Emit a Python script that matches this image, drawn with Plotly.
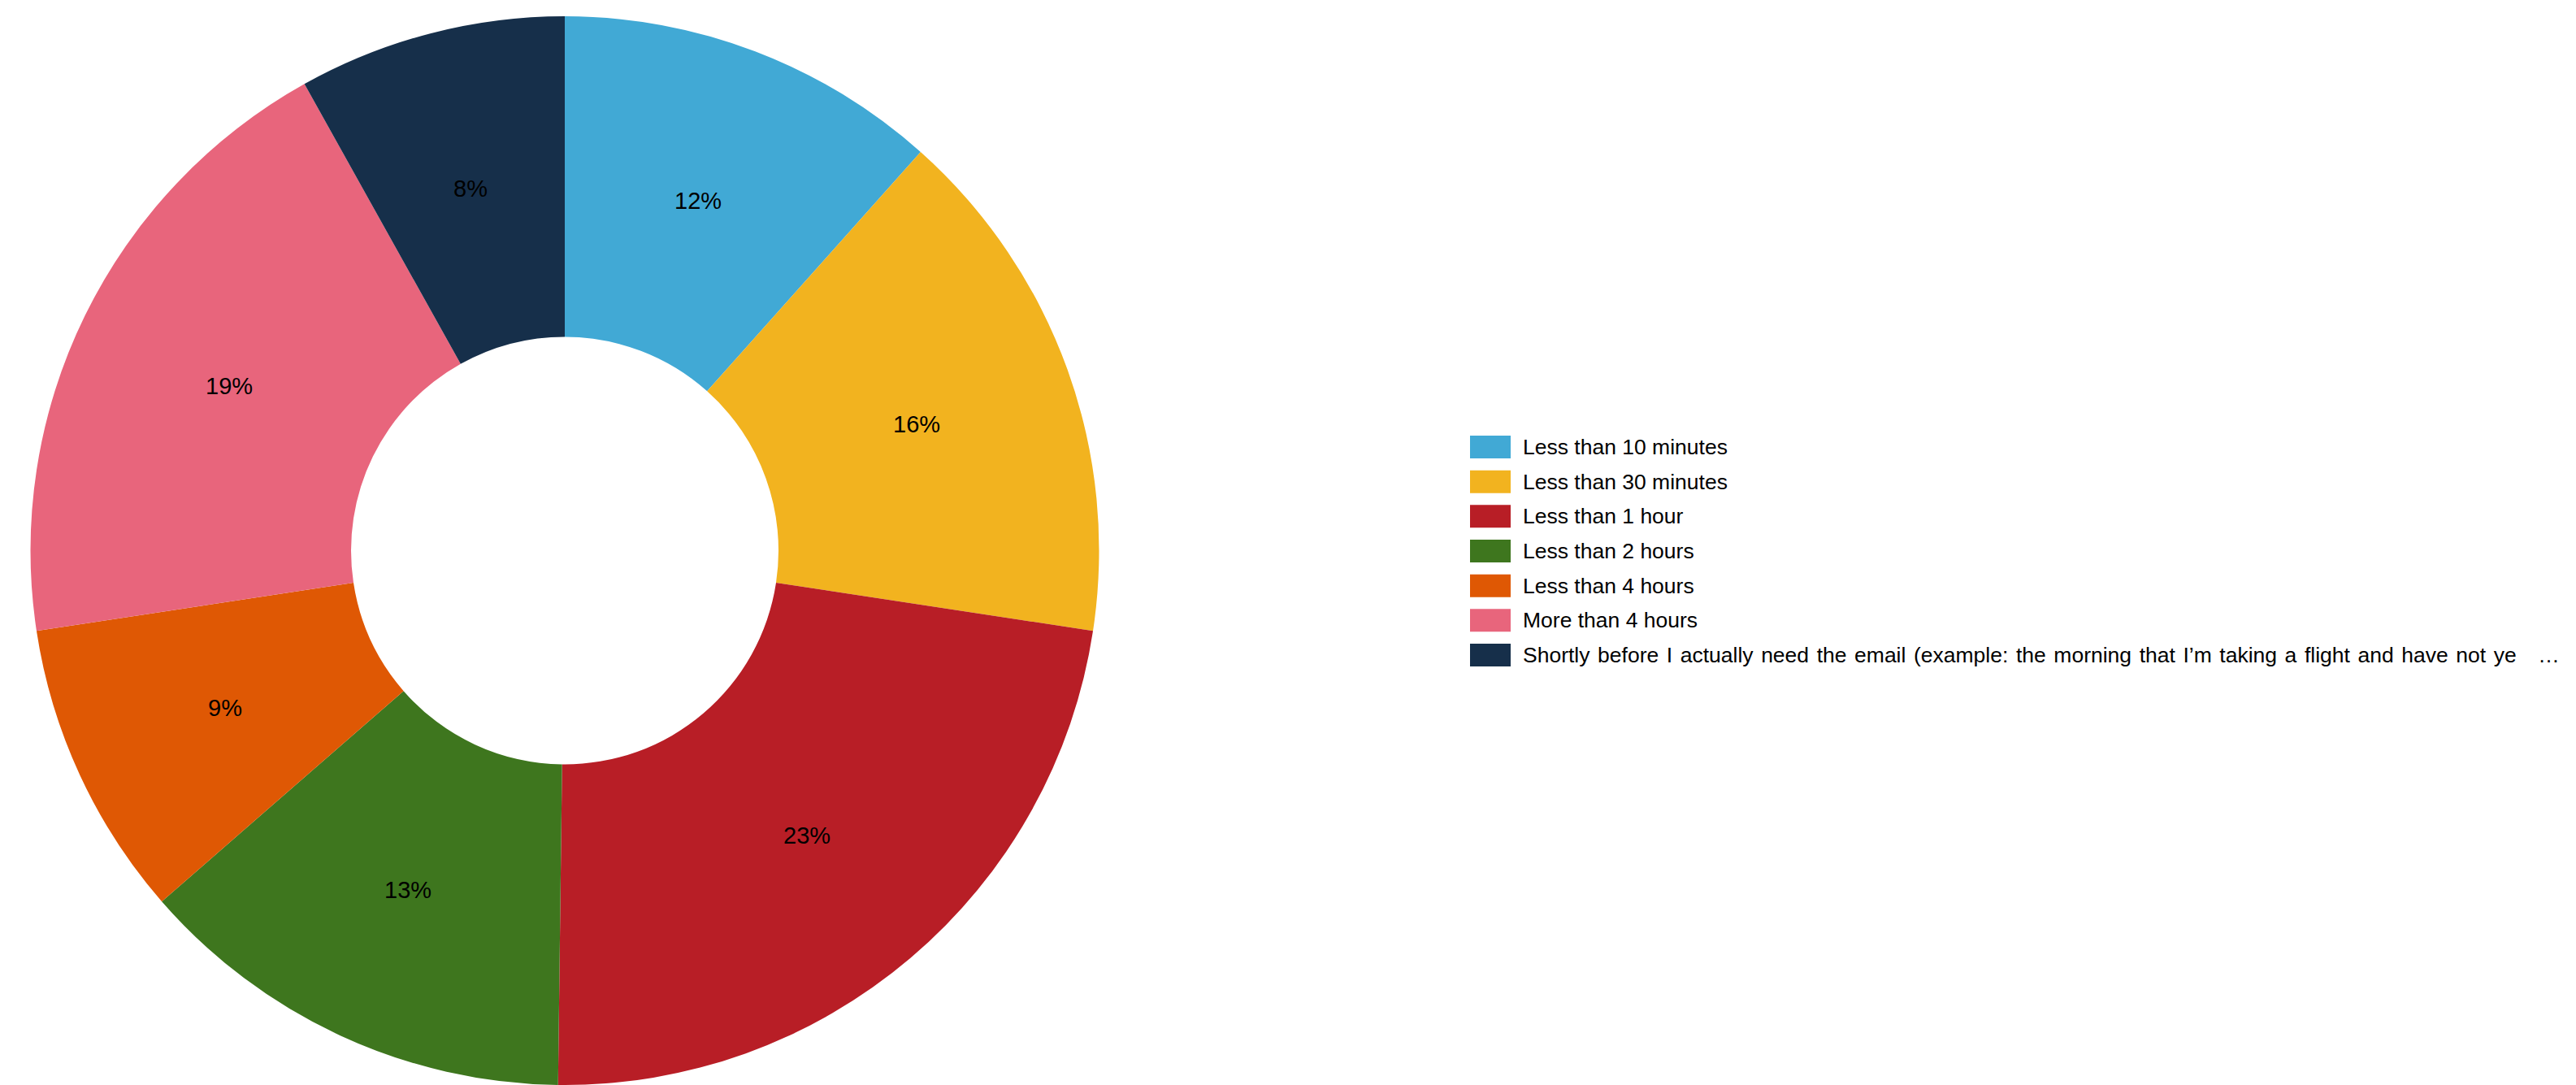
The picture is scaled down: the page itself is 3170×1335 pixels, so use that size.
import math
import plotly.graph_objects as go

labels = [
    "Less than 10 minutes",
    "Less than 30 minutes",
    "Less than 1 hour",
    "Less than 2 hours",
    "Less than 4 hours",
    "More than 4 hours",
    "Shortly before I actually need the email (example: the morning that I\u2019m taking a flight and have not ye \u00a0 \u2026",
]
values = [11.6, 15.8, 22.8, 13.4, 9.0, 19.3, 8.1]
colors = ["#41a9d5", "#f2b31f", "#b81e26", "#3e761e", "#df5804", "#e8657c", "#162f4a"]

W, H = 3170, 1335
MT = 20
PH = H - MT
HOLE = 0.4

# pie geometry (pixels) -- domain chosen so the pie sits at the left like the reference
R = PH / 2
CX = 695
CY = MT + R
dom_x = [(CX - R) / W, (CX + R) / W]

fig = go.Figure()
fig.add_trace(go.Pie(
    labels=labels,
    values=values,
    hole=HOLE,
    sort=False,
    direction="clockwise",
    rotation=0,
    marker=dict(colors=colors, line=dict(width=0)),
    textinfo="none",
    domain=dict(x=dom_x, y=[0, 1]),
    showlegend=False,
))


def to_paper(px, py):
    return px / W, 1 - (py - MT) / PH


annotations = []
shapes = []

# percentage labels at mid-ring on each slice bisector (computed from values)
total = sum(values)
cum = 0.0
r_mid = R * (1 + HOLE) / 2
for v in values:
    theta = 2 * math.pi * (cum + v / 2) / total
    cum += v
    px = CX + r_mid * math.sin(theta)
    py = CY - r_mid * math.cos(theta)
    x, y = to_paper(px, py)
    annotations.append(dict(
        xref="paper", yref="paper", x=x, y=y,
        xanchor="center", yanchor="middle", showarrow=False,
        text=f"{round(v / total * 100)}%",
        font=dict(family="Liberation Sans, Arial", size=29, color="#000000"),
    ))

# custom legend (built from the same label/colour lists)
leg_x0, leg_y0, box_w, box_h, row_h, text_gap = 1809, 536, 50, 28, 42.67, 13
for i, (lab, col) in enumerate(zip(labels, colors)):
    top = leg_y0 + i * row_h
    x0, y1 = to_paper(leg_x0, top)
    x1, y0 = to_paper(leg_x0 + box_w, top + box_h)
    shapes.append(dict(
        type="rect", xref="paper", yref="paper",
        x0=x0, x1=x1, y0=y0, y1=y1,
        fillcolor=col, line=dict(width=0), layer="above",
    ))
    tx, ty = to_paper(leg_x0 + box_w + text_gap, top + box_h / 2)
    shown = lab if len(lab) < 40 else lab.replace(" ", " \u200a")
    annotations.append(dict(
        xref="paper", yref="paper", x=tx, y=ty,
        xanchor="left", yanchor="middle", showarrow=False,
        text=shown,
        font=dict(family="Liberation Sans, Arial", size=26.5, color="#000000"),
    ))

fig.update_layout(
    width=W, height=H,
    margin=dict(l=0, r=0, t=MT, b=0),
    paper_bgcolor="white",
    plot_bgcolor="white",
    shapes=shapes,
    annotations=annotations,
    showlegend=False,
)

fig.write_html("out.html")
